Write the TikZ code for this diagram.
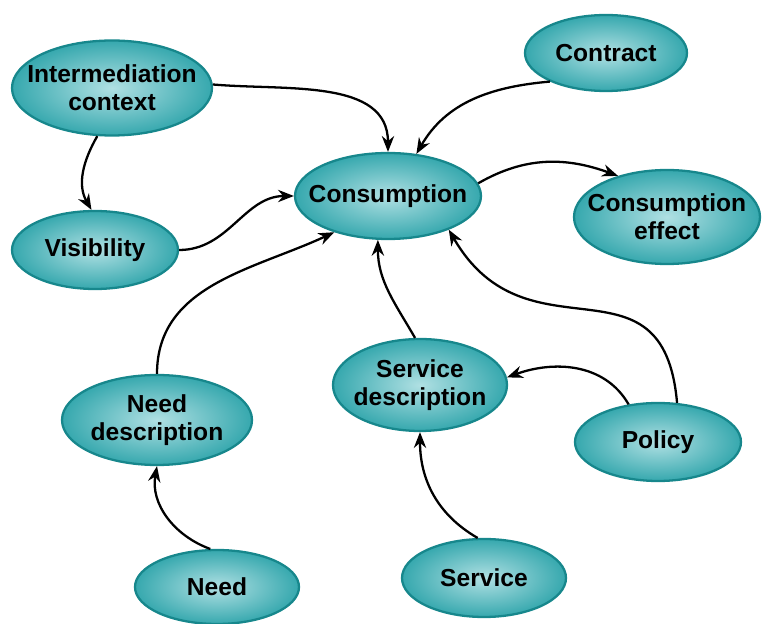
\documentclass[tikz,border=0pt]{standalone}
\usepackage{fontspec}
\setmainfont{Liberation Sans}
\usepackage{tikz}
\usetikzlibrary{shapes.geometric,arrows.meta}
\definecolor{ovalin}{HTML}{B0E0E3}
\definecolor{ovalout}{HTML}{36A8AE}
\definecolor{ovalline}{HTML}{17878C}
\tikzset{concept/.style={ellipse,draw=ovalline,line width=1.3pt,inner xsep=-20pt,inner ysep=-10pt,
    shading=radial,inner color=ovalin,outer color=ovalout,align=center,
    font=\fontsize{14}{16}\selectfont\bfseries}}
\tikzset{link/.style={-{Stealth[length=9pt,width=7pt]},line width=1.3pt}}

\begin{document}
\begin{tikzpicture}
                   \useasboundingbox (0,0) rectangle (15.32,-12.48);
                   \node[concept,minimum width=4cm,minimum height=1.9cm] (c_inter) at (2.24,-1.76) {Intermediation\\context};
                   \node[concept,minimum width=3.24cm,minimum height=1.52cm] (c_contract) at (12.12,-1.06) {Contract};
                   \node[concept,minimum width=3.72cm,minimum height=1.72cm] (c_consumption) at (7.76,-3.92) {Consumption};
                   \node[concept,minimum width=3.72cm,minimum height=1.88cm] (c_effect) at (13.34,-4.34) {Consumption\\effect};
                   \node[concept,minimum width=3.32cm,minimum height=1.56cm] (c_visibility) at (1.9,-5.0) {Visibility};
                   \node[concept,minimum width=3.8cm,minimum height=1.8cm] (c_needdesc) at (3.14,-8.4) {Need\\description};
                   \node[concept,minimum width=3.48cm,minimum height=1.84cm] (c_servdesc) at (8.4,-7.7) {Service\\description};
                   \node[concept,minimum width=3.32cm,minimum height=1.56cm] (c_policy) at (13.16,-8.84) {Policy};
                   \node[concept,minimum width=3.28cm,minimum height=1.48cm] (c_need) at (4.34,-11.74) {Need};
                   \node[concept,minimum width=3.28cm,minimum height=1.56cm] (c_service) at (9.68,-11.56) {Service};
                    \path[link]
                    (c_inter.2) edge [out=-5, in=90] (c_consumption.north)
                    (c_inter.253) edge [out=-120, in=120] (c_visibility.95)
                    (c_contract.207) edge [out=185, in=60] (c_consumption.56)
                    (c_visibility.east) edge [out=0, in=180] (c_consumption.west)
                    (c_consumption.8) edge [out=30, in=160] (c_effect.140)
                    (c_needdesc.north) edge [out=90, in=205] (c_consumption.214)
                    (c_servdesc.96) edge [out=120, in=-90] (c_consumption.257)
                    (c_policy.64) edge [out=95, in=-60, looseness=1.4] (c_consumption.-29)
                    (c_policy.128) edge [out=120, in=20] (c_servdesc.5)
                    (c_need.100) edge [out=160, in=-100] (c_needdesc.south)
                    (c_service.99) edge [out=150, in=-90] (c_servdesc.south);
                \end{tikzpicture}
\end{document}
